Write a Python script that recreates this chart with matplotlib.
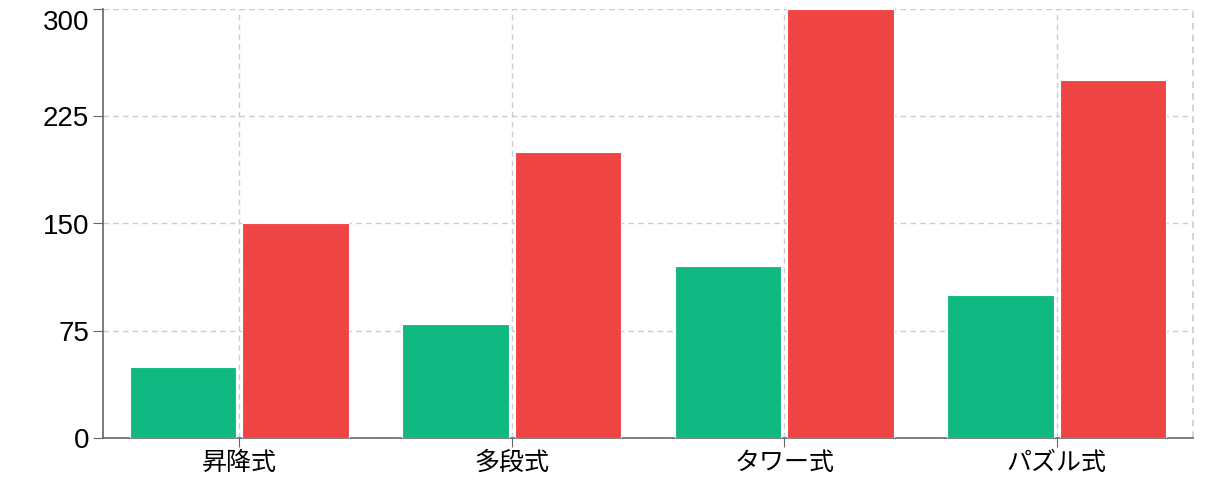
import matplotlib
matplotlib.use("Agg")
import matplotlib.pyplot as plt
import matplotlib.transforms as mtransforms
import numpy as np

categories = ["昇降式", "多段式", "タワー式", "パズル式"]
series_green = [50, 80, 120, 100]
series_red = [150, 200, 300, 250]
yticks = [0, 75, 150, 225, 300]

fig = plt.figure(figsize=(12.27, 4.94), dpi=100)
ax = fig.add_axes([103/1227, 1-438/494, (1193-103)/1227, (438-9)/494])

x = np.arange(len(categories))
w = 0.39
off = 0.206
ax.bar(x - off, series_green, width=w, color="#10b981", edgecolor="white", linewidth=0.8, zorder=3)
ax.bar(x + off, series_red, width=w, color="#ef4444", edgecolor="white", linewidth=0.8, zorder=3)

ax.set_xlim(-0.5, len(categories) - 0.5)
ax.set_ylim(0, 300)
ax.set_yticks(yticks)
ax.set_yticklabels([str(v) for v in yticks], fontsize=20, family=["Liberation Sans", "DejaVu Sans"])
ax.set_xticks(x)
ax.set_xticklabels(categories, fontsize=18, family=["Noto Sans CJK JP", "DejaVu Sans"])

ax.set_axisbelow(True)
ax.grid(True, color="#cccccc", linestyle=(0, (4, 3)), linewidth=1)
ax.axvline(len(categories) - 0.5, color="#cccccc", linestyle=(0, (4, 3)), linewidth=1.2, zorder=1, clip_on=False)

for s in ["top", "right"]:
    ax.spines[s].set_visible(False)
for s in ["left", "bottom"]:
    ax.spines[s].set_color("#666666")
    ax.spines[s].set_linewidth(1.2)

ax.tick_params(axis="y", length=7, color="#666666", labelcolor="black", pad=3)
ax.tick_params(axis="x", length=6.5, color="#666666", labelcolor="black", pad=2)

# top label is pushed inside the canvas like in the reference
top_label = ax.get_yticklabels()[-1]
top_label.set_transform(top_label.get_transform() + mtransforms.ScaledTranslation(0, -11/100, fig.dpi_scale_trans))

fig.savefig("out.png", dpi=100)
